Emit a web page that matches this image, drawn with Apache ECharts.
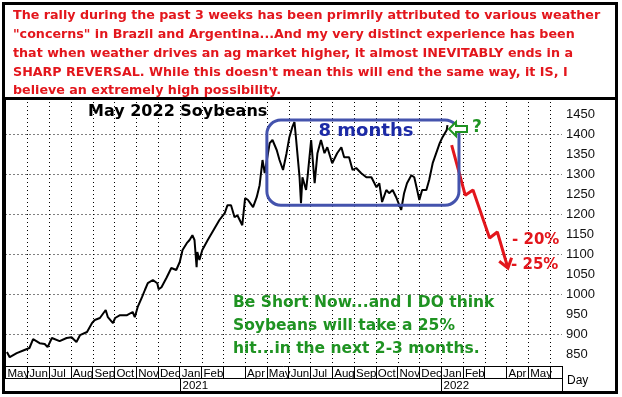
<!DOCTYPE html>
<html><head><meta charset="utf-8">
<script src="https://cdn.jsdelivr.net/npm/echarts@6/dist/echarts.min.js"></script>
<style>html,body{margin:0;padding:0;background:#fff}#c{width:622px;height:397px}</style>
</head><body><div id="c"></div>
<script>
// ---- data ----
const dates = ['2020-05-03','2020-05-07','2020-05-17','2020-05-28','2020-06-04','2020-06-09','2020-06-18','2020-06-25','2020-06-29','2020-07-05','2020-07-16','2020-07-26','2020-08-02','2020-08-09','2020-08-14','2020-08-24','2020-08-31','2020-09-04','2020-09-11','2020-09-19','2020-09-22','2020-09-29','2020-10-02','2020-10-09','2020-10-19','2020-10-27','2020-10-30','2020-11-03','2020-11-09','2020-11-13','2020-11-17','2020-11-24','2020-11-30','2020-12-02','2020-12-06','2020-12-13','2020-12-20','2020-12-27','2021-01-01','2021-01-05','2021-01-11','2021-01-15','2021-01-19','2021-01-22','2021-01-25','2021-01-26','2021-01-29','2021-02-02','2021-02-09','2021-02-15','2021-02-24','2021-03-03','2021-03-07','2021-03-12','2021-03-17','2021-03-21','2021-03-28','2021-04-01','2021-04-05','2021-04-12','2021-04-17','2021-04-21','2021-04-25','2021-04-28','2021-05-05','2021-05-09','2021-05-15','2021-05-19','2021-05-24','2021-05-29','2021-06-02','2021-06-06','2021-06-09','2021-06-11','2021-06-16','2021-06-18','2021-06-20','2021-06-25','2021-06-27','2021-07-02','2021-07-07','2021-07-11','2021-07-16','2021-07-21','2021-07-25','2021-08-01','2021-08-08','2021-08-14','2021-08-18','2021-08-25','2021-08-30','2021-09-04','2021-09-11','2021-09-18','2021-09-25','2021-10-02','2021-10-06','2021-10-10','2021-10-16','2021-10-20','2021-10-25','2021-10-30','2021-11-06','2021-11-10','2021-11-14','2021-11-20','2021-11-24','2021-11-28','2021-12-01','2021-12-05','2021-12-11','2021-12-15','2021-12-20','2021-12-25','2021-12-30','2022-01-03','2022-01-09','2022-01-10'];
const prices = [855,842,852,860,865,887,877,875,867,890,882,890,892,880,897,905,927,935,940,960,942,927,940,947,947,955,942,967,992,1010,1027,1035,1027,1012,1017,1040,1065,1060,1080,1110,1127,1135,1147,1135,1067,1105,1085,1110,1135,1155,1185,1202,1222,1222,1192,1197,1172,1240,1235,1217,1242,1272,1335,1302,1377,1385,1360,1335,1310,1352,1392,1417,1430,1392,1292,1227,1292,1260,1292,1385,1277,1352,1385,1352,1367,1327,1352,1367,1342,1342,1310,1315,1302,1292,1292,1267,1277,1230,1260,1252,1260,1242,1210,1252,1277,1297,1292,1260,1235,1260,1260,1285,1327,1352,1377,1392,1410,1422];
const projDates = ['2022-01-16','2022-02-04','2022-02-14','2022-03-08','2022-03-19','2022-04-03'];
const projPrices = [1372,1247,1260,1140,1155,1065];
const monthLabels = ['May','Jun','Jul','Aug','Sep','Oct','Nov','Dec','Jan','Feb','','Apr','May','Jun','Jul','Aug','Sep','Oct','Nov','Dec','Jan','Feb','','Apr','May',''];
const yearLabels = ['2021','2022'];
const yearMonthIdx = [8,20];
const yTickLabels = [850,900,950,1000,1050,1100,1150,1200,1250,1300,1350,1400,1450];
const hGridValues = [900,1000,1100,1200,1300,1400];
const boxRange = {m0:12.0, m1:20.82, p0:1435, p1:1222};
const headerLines = [
 'The rally during the past 3 weeks has been primrily attributed to various weather',
 '"concerns" in Brazil and Argentina...And my very distinct experience has been',
 'that when weather drives an ag market higher, it almost INEVITABLY ends in a',
 'SHARP REVERSAL. While this doesn\'t mean this will end the same way, it IS, I',
 'believe an extremely high possibility.'
];
const noteLines = ['Be Short Now...and I DO think','Soybeans will take a 25%','hit...in the next 2-3 months.'];
const titleText = 'May 2022 Soybeans';
const boxText = '8 months';
const pctLabels = ['- 20%','- 25%'];

function toM(s){const [y,mo,d]=s.split('-').map(Number);const dim=new Date(y,mo,0).getDate();return (y-2020)*12+(mo-5)+(d-1)/dim;}

const RED='#e3161c', GREEN='#1f9322', BLUE='#1c2aa6', BOXC='#4453ad';
const DOT = {color:'#000', type:[1,3], width:1};
const chart = echarts.init(document.getElementById('c'), null, {renderer:'canvas'});
const option = {
  animation:false,
  grid:{left:5.5, right:60, top:98, bottom:31},
  xAxis:{type:'value', min:0, max:25.55, interval:1,
    axisLine:{lineStyle:{color:'#000',width:1}},
    axisTick:{length:12, lineStyle:{color:'#000'}},
    axisLabel:{formatter:v=>monthLabels[v]||'', align:'left', margin:2, padding:[0,0,0,2], color:'#000', fontFamily:'Liberation Sans', fontSize:11.5, showMaxLabel:false},
    splitLine:{show:false}
  },
  yAxis:{type:'value', position:'right', min:820, max:1490, interval:10,
    axisLine:{show:true, lineStyle:{color:'#000',width:1}},
    axisTick:{show:true, inside:true, length:3, lineStyle:{color:'#000'}},
    axisLabel:{formatter:v=>yTickLabels.includes(v)?String(v):'', margin:4, color:'#111', fontFamily:'Liberation Sans', fontSize:13, showMinLabel:false, showMaxLabel:false},
    splitLine:{show:false}
  },
  series:[
    {type:'line', data:dates.map((d,i)=>[toM(d),prices[i]]), showSymbol:false, symbol:'none',
     lineStyle:{color:'#000', width:2}, z:3},
    {type:'line', data:projDates.map((d,i)=>[toM(d),projPrices[i]]), showSymbol:false, symbol:'none',
     lineStyle:{color:RED, width:3}, z:4}
  ]
};
chart.setOption(option);

const px = (m,p)=>chart.convertToPixel({gridIndex:0},[m,p]);
const g = [];
// dotted grid lines placed through the axis scales
const gx0 = px(0,1000)[0], gx1 = px(25.55,1000)[0];
const gyTop = px(0,1490)[1], gyBot = px(0,820)[1];
hGridValues.forEach(v=>{const y=Math.round(px(0,v)[1])+0.5; g.push({type:'line', shape:{x1:gx0,y1:y,x2:gx1,y2:y}, style:{stroke:'#000', lineWidth:1, lineDash:[1,3]}, z:1});});
for(let m=1;m<=25;m++){const x=Math.round(px(m,1000)[0])+0.5; g.push({type:'line', shape:{x1:x,y1:gyTop,x2:x,y2:gyBot}, style:{stroke:'#000', lineWidth:1, lineDash:[1,3]}, z:1});}
// frame
g.push({type:'rect', shape:{x:3.5,y:3.5,width:613,height:389}, style:{fill:null, stroke:'#000', lineWidth:3}, z:100});
g.push({type:'line', shape:{x1:3,y1:98.5,x2:617,y2:98.5}, style:{stroke:'#000', lineWidth:3}, z:100});
// header
headerLines.forEach((t,i)=>g.push({type:'text', x:13, y:16+i*18.75, style:{text:t, fill:RED, font:'bold 12.7px "DejaVu Sans"', textVerticalAlign:'middle'}, z:50}));
// title
g.push({type:'text', x:88, y:112, style:{text:titleText, fill:'#000', font:'bold 16px "DejaVu Sans"', textVerticalAlign:'middle'}, z:50});
// box
const b0 = px(boxRange.m0, boxRange.p0), b1 = px(boxRange.m1, boxRange.p1);
g.push({type:'rect', shape:{x:b0[0], y:b0[1], width:b1[0]-b0[0], height:b1[1]-b0[1], r:14}, style:{fill:null, stroke:BOXC, lineWidth:3}, z:20});
g.push({type:'text', x:366, y:131, style:{text:boxText, fill:BLUE, font:'bold 18px "DejaVu Sans"', textAlign:'center', textVerticalAlign:'middle'}, z:50});
// green arrow + ?
g.push({type:'polygon', shape:{points:[[449,129],[456,122],[456,126],[467,126],[467,132],[456,132],[456,136]]}, style:{fill:'#fff', stroke:GREEN, lineWidth:2}, z:50});
g.push({type:'text', x:472, y:128, style:{text:'?', fill:GREEN, font:'bold 17px "DejaVu Sans"', textVerticalAlign:'middle'}, z:50});
// red arrowhead at projection end
const n = projDates.length;
const tip = px(toM(projDates[n-1]), projPrices[n-1]);
const prev = px(toM(projDates[n-2]), projPrices[n-2]);
const ang = Math.atan2(tip[1]-prev[1], tip[0]-prev[0]);
const L = 11, spread = Math.PI/5;
const w1 = [tip[0]-L*Math.cos(ang-spread), tip[1]-L*Math.sin(ang-spread)];
const w2 = [tip[0]-L*Math.cos(ang+spread), tip[1]-L*Math.sin(ang+spread)];
g.push({type:'polyline', shape:{points:[w1,tip,w2]}, style:{stroke:RED, lineWidth:3, fill:null}, z:50});
// pct labels
g.push({type:'text', x:512, y:240, style:{text:pctLabels[0], fill:RED, font:'bold 15px "DejaVu Sans"', textVerticalAlign:'middle'}, z:50});
g.push({type:'text', x:511, y:265, style:{text:pctLabels[1], fill:RED, font:'bold 15px "DejaVu Sans"', textVerticalAlign:'middle'}, z:50});
// green note
noteLines.forEach((t,i)=>g.push({type:'text', x:233, y:303+i*23, style:{text:t, fill:GREEN, font:'bold 15.5px "DejaVu Sans"', textVerticalAlign:'middle'}, z:50}));
// month row bottom line, year row
g.push({type:'line', shape:{x1:5,y1:378.5,x2:562,y2:378.5}, style:{stroke:'#000', lineWidth:1}, z:50});
yearMonthIdx.forEach((mi,i)=>{
  const xx = Math.round(px(mi, 1000)[0])+0.5;
  g.push({type:'line', shape:{x1:xx,y1:378,x2:xx,y2:392}, style:{stroke:'#000', lineWidth:1}, z:50});
  g.push({type:'text', x:xx+2, y:385.5, style:{text:yearLabels[i], fill:'#000', font:'11.5px "Liberation Sans"', textVerticalAlign:'middle'}, z:50});
});
// y axis extension and Day label
const axX = Math.round(gx1)+0.5;
g.push({type:'line', shape:{x1:axX,y1:366,x2:axX,y2:393}, style:{stroke:'#000', lineWidth:1}, z:50});
g.push({type:'text', x:567, y:381, style:{text:'Day', fill:'#000', font:'12px "Liberation Sans"', textVerticalAlign:'middle'}, z:50});
chart.setOption({graphic:{elements:g}});
</script></body></html>
